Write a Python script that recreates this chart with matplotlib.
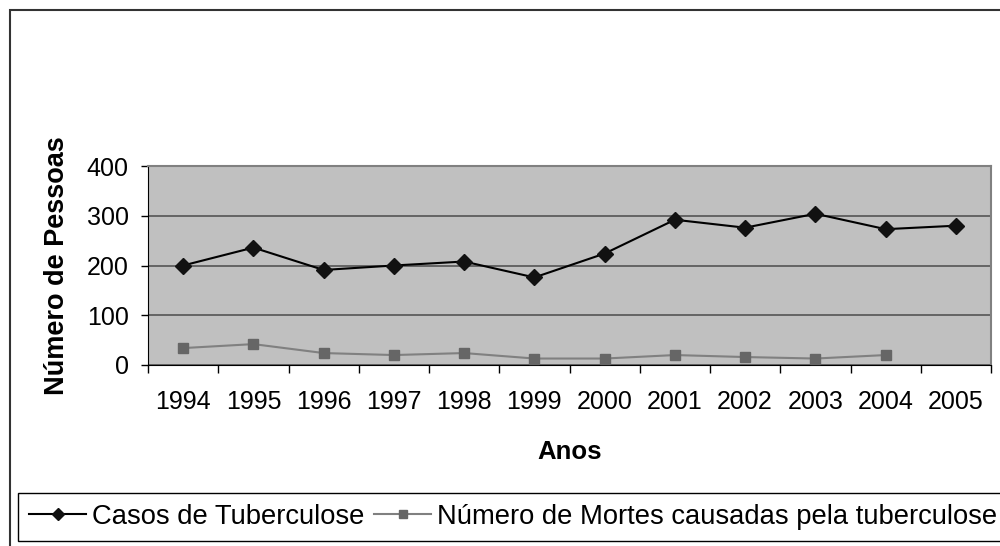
import matplotlib
matplotlib.use("Agg")
import matplotlib.pyplot as plt
from matplotlib.patches import Rectangle

anos = ["1994", "1995", "1996", "1997", "1998", "1999", "2000",
        "2001", "2002", "2003", "2004", "2005"]
casos = [200, 236, 191, 200, 208, 176, 224, 292, 276, 304, 273, 280]
mortes = [34, 42, 24, 20, 24, 13, 13, 20, 16, 13, 20]

plt.rcParams['font.family'] = ['Liberation Sans', 'DejaVu Sans']

fig = plt.figure(figsize=(10, 5.46), dpi=100)
W, H = 1000, 546

# outer chart border (clipped at right and bottom like the original)
fig.patches.append(Rectangle((10 / W, -0.1), 1.2, 1 - 10 / H + 0.1,
                             transform=fig.transFigure, fill=False,
                             edgecolor='#333333', linewidth=1.5))

ax = fig.add_axes([148 / W, 1 - 365 / H, 843 / W, (365 - 166) / H])
ax.set_facecolor('#C0C0C0')

x = list(range(len(anos)))
ax.plot(x, casos, color='black', linewidth=1.5, marker='D', markersize=8,
        markerfacecolor='#111111', markeredgecolor='#111111',
        label='Casos de Tuberculose', zorder=3)
ax.plot(x[:len(mortes)], mortes, color='#808080', linewidth=1.5, marker='s',
        markersize=7, markerfacecolor='#666666', markeredgecolor='#666666',
        label='Número de Mortes causadas pela tuberculose', zorder=3)

ax.set_xlim(-0.5, len(anos) - 0.5)
ax.set_ylim(0, 400)
ax.set_yticks([0, 100, 200, 300, 400])
ax.yaxis.grid(True, color='#555555', linewidth=1.2)
ax.set_axisbelow(True)

ax.set_xticks(x)
ax.set_xticklabels(anos, fontsize=18)
ax.set_xticks([i - 0.5 for i in range(len(anos) + 1)], minor=True)
ax.tick_params(axis='x', which='major', length=0, pad=18)
ax.tick_params(axis='x', which='minor', length=6, width=1, color='black')
ax.tick_params(axis='y', length=5, width=1, labelsize=18, pad=9)

for s in ['top', 'right']:
    ax.spines[s].set_color('#808080')
    ax.spines[s].set_linewidth(1.5)
ax.spines['left'].set_color('black')
ax.spines['bottom'].set_color('black')

ax.set_xlabel('Anos', fontsize=18.5, fontweight='bold', labelpad=19)
ax.set_ylabel('Número de Pessoas', fontsize=19.5, fontweight='bold', labelpad=12)

leg = fig.legend(loc='lower left', bbox_to_anchor=(18 / W, 1 - 541 / H),
                 ncol=2, fontsize=19.7, frameon=True, fancybox=False,
                 edgecolor='black', framealpha=1, handlelength=2.1,
                 handletextpad=0.2, columnspacing=0.35, borderaxespad=0,
                 borderpad=0.4, markerscale=0.8)
leg.get_frame().set_linewidth(1.0)

fig.savefig('out.png', dpi=100)
